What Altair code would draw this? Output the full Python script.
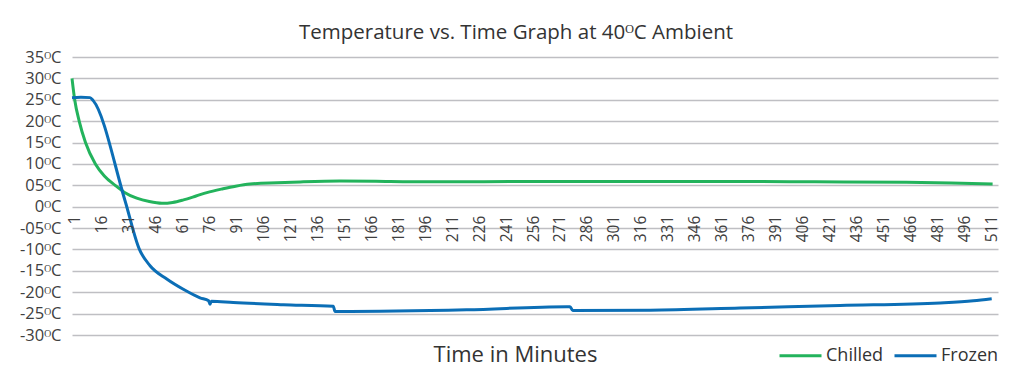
import altair as alt
import pandas as pd

# ---- data ----
chilled_min = [1, 2.5, 5, 8.5, 14, 19, 25, 30, 37, 44, 51, 57, 63, 70, 76, 85, 92, 100, 115, 128, 150, 170, 190, 230, 270, 310, 350, 400, 430, 465, 490, 513]
chilled_temp = [30, 25, 20, 15, 10, 7.2, 5, 3.4, 2.0, 1.2, 0.8, 1.0, 1.6, 2.5, 3.3, 4.2, 4.8, 5.3, 5.6, 5.8, 6.0, 5.95, 5.85, 5.85, 5.9, 5.9, 5.9, 5.85, 5.8, 5.7, 5.55, 5.3]

frozen_min = [1, 6, 11, 12.8, 30.5, 38.5, 44.4, 53.7, 62.9, 72.2, 77, 77.7, 78.5, 90.7, 118.5, 146.3, 147.3, 148.2, 220.5, 276.1, 278, 279.5, 322.5, 372.5, 428.2, 483.8, 502.3, 512.5]
frozen_temp = [25.5, 25.6, 25.5, 24.8, 1.4, -10.0, -13.8, -16.9, -19.3, -21.3, -22.0, -22.8, -22.1, -22.4, -22.9, -23.3, -24.5, -24.5, -24.1, -23.4, -23.4, -24.3, -24.2, -23.7, -23.1, -22.5, -22.0, -21.5]

series_names = ["Chilled", "Frozen"]
series_colors = ["#23B35C", "#0B6EB6"]

x_tick_values = list(range(1, 512, 15))
y_tick_values = list(range(-30, 36, 5))

title_text = "Temperature vs. Time Graph at 40\u1D3CC Ambient"
x_title = "Time in Minutes"

rows = [{"minute": m, "temp": t, "series": "Chilled"} for m, t in zip(chilled_min, chilled_temp)]
rows += [{"minute": m, "temp": t, "series": "Frozen"} for m, t in zip(frozen_min, frozen_temp)]
df = pd.DataFrame(rows)

lab = pd.DataFrame({"minute": x_tick_values,
                    "label": [str(v) for v in x_tick_values],
                    "zero": [0] * len(x_tick_values)})

FONT = "Open Sans"
TEXT = "#404040"

xscale = alt.Scale(domain=[1, 516], nice=False, zero=False)
yscale = alt.Scale(domain=[-30, 35], nice=False, zero=False)

y_label_expr = ("datum.value == 0 ? '0\u1D3CC' : (datum.value < 0 ? '-' : '') + "
                "(abs(datum.value) < 10 ? '0' : '') + abs(datum.value) + '\u1D3CC'")

x_axis = alt.Axis(labels=False, ticks=False, domain=False, grid=False,
                  title=x_title, titleFont=FONT, titleFontSize=22,
                  titleFontWeight="normal", titleColor="#333333",
                  titleX=443, titleY=19, titleAlign="center",
                  titleBaseline="middle")
y_axis = alt.Axis(values=y_tick_values, labelExpr=y_label_expr,
                  labelOverlap=False,
                  title=None, domain=False, ticks=False,
                  gridColor="#BFBFC3", gridWidth=1.5,
                  labelFont=FONT, labelFontSize=16.5, labelColor=TEXT,
                  labelPadding=11)

lines = alt.Chart(df).mark_line(strokeWidth=3, interpolate="monotone").encode(
    x=alt.X("minute:Q", scale=xscale, axis=x_axis),
    y=alt.Y("temp:Q", scale=yscale, axis=y_axis),
    color=alt.Color("series:N",
                    scale=alt.Scale(domain=series_names, range=series_colors),
                    legend=alt.Legend(orient="none", legendX=706, legendY=276,
                                      direction="horizontal", title=None,
                                      symbolType="stroke", symbolSize=1764,
                                      symbolStrokeWidth=3,
                                      labelFont=FONT, labelFontSize=18,
                                      labelColor="#333333", columnPadding=4,
                                      labelOffset=3)),
)

xlabels = alt.Chart(lab).mark_text(angle=270, align="right", baseline="middle",
                                   dx=-9, dy=3, font=FONT, fontSize=15.5,
                                   color=TEXT).encode(
    x=alt.X("minute:Q", scale=xscale, axis=x_axis),
    y=alt.Y("zero:Q", scale=yscale, axis=y_axis),
    text="label:N",
)

chart = alt.layer(lines, xlabels).properties(
    width=926, height=278,
    title=alt.TitleParams(title_text, font=FONT, fontSize=20.5,
                          fontWeight="normal", color="#333333",
                          anchor="middle", dx=-19, dy=-2),
    autosize=alt.AutoSizeParams(type="none"),
    padding={"left": 64, "top": 49, "right": 13, "bottom": 44},
).configure(background="white").configure_view(stroke=None)

chart.save("out.html", embed_options={"renderer": "svg", "actions": False})
